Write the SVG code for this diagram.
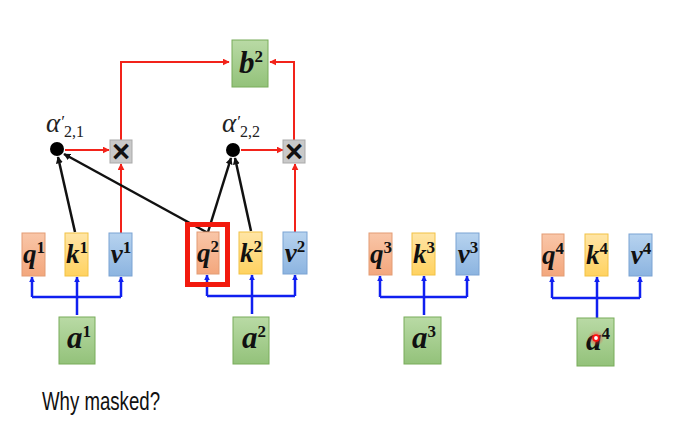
<svg xmlns="http://www.w3.org/2000/svg" width="673" height="432" viewBox="0 0 673 432">
<defs>
<linearGradient id="gq" x1="0" y1="0" x2="0" y2="1"><stop offset="0" stop-color="#F9C6A8"/><stop offset="1" stop-color="#F3A77D"/></linearGradient>
<linearGradient id="gk" x1="0" y1="0" x2="0" y2="1"><stop offset="0" stop-color="#FFE5A6"/><stop offset="1" stop-color="#FFD260"/></linearGradient>
<linearGradient id="gv" x1="0" y1="0" x2="0" y2="1"><stop offset="0" stop-color="#B7D3EF"/><stop offset="1" stop-color="#8CB4E0"/></linearGradient>
<linearGradient id="gg" x1="0" y1="0" x2="0" y2="1"><stop offset="0" stop-color="#B9DAA5"/><stop offset="1" stop-color="#93C27A"/></linearGradient>
<radialGradient id="glow"><stop offset="0" stop-color="#ff3030" stop-opacity="0.8"/><stop offset="1" stop-color="#ff3030" stop-opacity="0"/></radialGradient>
<marker id="ar" viewBox="0 0 10 10" refX="9" refY="5" markerWidth="7" markerHeight="7" markerUnits="userSpaceOnUse" orient="auto"><path d="M0,0 L10,5 L0,10 Z" fill="#F2231A"/></marker>
<marker id="ab" viewBox="0 0 10 10" refX="9" refY="5" markerWidth="7" markerHeight="7" markerUnits="userSpaceOnUse" orient="auto"><path d="M0,0 L10,5 L0,10 Z" fill="#111"/></marker>
<marker id="au" viewBox="0 0 10 10" refX="9" refY="5" markerWidth="6" markerHeight="6" markerUnits="userSpaceOnUse" orient="auto"><path d="M0,0 L10,5 L0,10 Z" fill="#1020F0"/></marker>
</defs>
<style>
.q{fill:url(#gq);stroke:#E39C74;stroke-width:1}
.k{fill:url(#gk);stroke:#F2C244;stroke-width:1}
.v{fill:url(#gv);stroke:#7BA3D3;stroke-width:1}
.g{fill:url(#gg);stroke:#78AC5A;stroke-width:1}
.x{fill:#C9C9C9;stroke:#A9A9A9;stroke-width:1}
.m{font-family:"Liberation Serif",serif;font-weight:bold;font-style:italic;fill:#111;text-anchor:middle}
.s{font-size:27px}
.l{font-size:31px}
.sup{font-size:17px;font-style:normal;font-weight:bold}
.al{font-family:"Liberation Serif",serif;font-style:italic;fill:#222}
.times{font-family:"Liberation Sans",sans-serif;font-weight:bold;font-size:31px;fill:#111;text-anchor:middle}
.red{stroke:#F2231A;stroke-width:2;fill:none}
.blk{stroke:#111;stroke-width:2.5;fill:none}
.blu{stroke:#1020F0;stroke-width:2.5;fill:none}
</style>

<g id="connectors">
<path class="blu" d="M77,315 V297 M32,297 H121" />
<path class="blu" d="M32,297 V277" marker-end="url(#au)"/>
<path class="blu" d="M77,297 V277" marker-end="url(#au)"/>
<path class="blu" d="M121,297 V277" marker-end="url(#au)"/>
<path class="blu" d="M252,314 V296 M207,296 H295" />
<path class="blu" d="M207,296 V275" marker-end="url(#au)"/>
<path class="blu" d="M252,296 V275" marker-end="url(#au)"/>
<path class="blu" d="M295,296 V275" marker-end="url(#au)"/>
<path class="blu" d="M424,315 V297 M380,297 H467" />
<path class="blu" d="M380,297 V276" marker-end="url(#au)"/>
<path class="blu" d="M424,297 V276" marker-end="url(#au)"/>
<path class="blu" d="M467,297 V276" marker-end="url(#au)"/>
<path class="blu" d="M597,318 V298 M552,298 H640" />
<path class="blu" d="M552,298 V277" marker-end="url(#au)"/>
<path class="blu" d="M597,298 V277" marker-end="url(#au)"/>
<path class="blu" d="M640,298 V277" marker-end="url(#au)"/>

<path class="red" d="M65,150 H109" marker-end="url(#ar)"/>
<path class="red" d="M241,150 H283" marker-end="url(#ar)"/>
<path class="red" d="M121,233 V164" marker-end="url(#ar)"/>
<path class="red" d="M295,232 V164" marker-end="url(#ar)"/>
<path class="red" d="M121,140 V62 H229" marker-end="url(#ar)"/>
<path class="red" d="M294,140 V62 H270" marker-end="url(#ar)"/>

<path class="blk" d="M75,232 L58,157" marker-end="url(#ab)"/>
<path class="blk" d="M208,233 L64,154" marker-end="url(#ab)"/>
<path class="blk" d="M208,232 L231,158" marker-end="url(#ab)"/>
<path class="blk" d="M251,231 L235,158" marker-end="url(#ab)"/>
</g>

<g id="q1"><rect class="q" x="22" y="233" width="23" height="43"/><text class="m s" x="34" y="263">q<tspan class="sup" dy="-10">1</tspan></text></g>
<g id="k1"><rect class="k" x="65" y="233" width="23" height="43"/><text class="m s" x="77" y="263">k<tspan class="sup" dy="-10">1</tspan></text></g>
<g id="v1"><rect class="v" x="109" y="233" width="23" height="43"/><text class="m s" x="121" y="263">v<tspan class="sup" dy="-10">1</tspan></text></g>
<g id="a1"><rect class="g" x="59" y="317" width="36" height="47"/><text class="m l" x="79" y="348">a<tspan class="sup" dy="-11">1</tspan></text></g>

<g id="q2"><rect class="q" x="197" y="232" width="22" height="42"/><text class="m s" x="208" y="262">q<tspan class="sup" dy="-10">2</tspan></text></g>
<g id="k2"><rect class="k" x="239" y="232" width="23" height="42"/><text class="m s" x="251" y="262">k<tspan class="sup" dy="-10">2</tspan></text></g>
<g id="v2"><rect class="v" x="283" y="232" width="24" height="42"/><text class="m s" x="295" y="262">v<tspan class="sup" dy="-10">2</tspan></text></g>
<g id="a2"><rect class="g" x="233" y="317" width="36" height="47"/><text class="m l" x="254" y="348">a<tspan class="sup" dy="-11">2</tspan></text></g>

<g id="q3"><rect class="q" x="369" y="233" width="23" height="42"/><text class="m s" x="381" y="263">q<tspan class="sup" dy="-10">3</tspan></text></g>
<g id="k3"><rect class="k" x="412" y="233" width="23" height="42"/><text class="m s" x="424" y="263">k<tspan class="sup" dy="-10">3</tspan></text></g>
<g id="v3"><rect class="v" x="456" y="233" width="23" height="42"/><text class="m s" x="468" y="263">v<tspan class="sup" dy="-10">3</tspan></text></g>
<g id="a3"><rect class="g" x="404" y="317" width="37" height="47"/><text class="m l" x="424" y="348">a<tspan class="sup" dy="-11">3</tspan></text></g>

<g id="q4"><rect class="q" x="542" y="234" width="22" height="42"/><text class="m s" x="553" y="264">q<tspan class="sup" dy="-10">4</tspan></text></g>
<g id="k4"><rect class="k" x="585" y="234" width="23" height="42"/><text class="m s" x="597" y="264">k<tspan class="sup" dy="-10">4</tspan></text></g>
<g id="v4"><rect class="v" x="629" y="234" width="23" height="42"/><text class="m s" x="641" y="264">v<tspan class="sup" dy="-10">4</tspan></text></g>
<g id="a4"><rect class="g" x="577" y="318" width="37" height="48"/><text class="m l" x="598" y="350">a<tspan class="sup" dy="-11">4</tspan></text></g>

<g id="b2"><rect class="g" x="232" y="40" width="36" height="47"/><text class="m l" x="251" y="73">b<tspan class="sup" dy="-11">2</tspan></text></g>

<g id="mul1"><rect class="x" x="110" y="140" width="22" height="23"/><text class="times" x="121" y="162">×</text></g>
<g id="mul2"><rect class="x" x="283" y="140" width="22" height="23"/><text class="times" x="294" y="162">×</text></g>

<g id="alpha21"><circle cx="57" cy="149" r="7" fill="#000"/>
<text class="al" x="46" y="132" font-size="27">α<tspan font-size="17" dx="0" dy="-5">′</tspan><tspan font-size="16" font-style="normal" dx="0" dy="10">2,1</tspan></text></g>
<g id="alpha22"><circle cx="233" cy="150" r="7" fill="#000"/>
<text class="al" x="222" y="132" font-size="27">α<tspan font-size="17" dx="0" dy="-5">′</tspan><tspan font-size="16" font-style="normal" dx="0" dy="10">2,2</tspan></text></g>

<rect id="highlight" x="187.5" y="224.5" width="40" height="60" fill="none" stroke="#F21A0E" stroke-width="5"/>

<g id="pointer"><circle cx="596" cy="338" r="8" fill="url(#glow)"/><circle cx="596" cy="338" r="2.8" fill="#fff" stroke="#ff1010" stroke-width="1.8"/></g>

<text x="42" y="410" font-family="'Liberation Sans',sans-serif" font-size="25" fill="#111" textLength="118" lengthAdjust="spacingAndGlyphs">Why masked?</text>
</svg>
